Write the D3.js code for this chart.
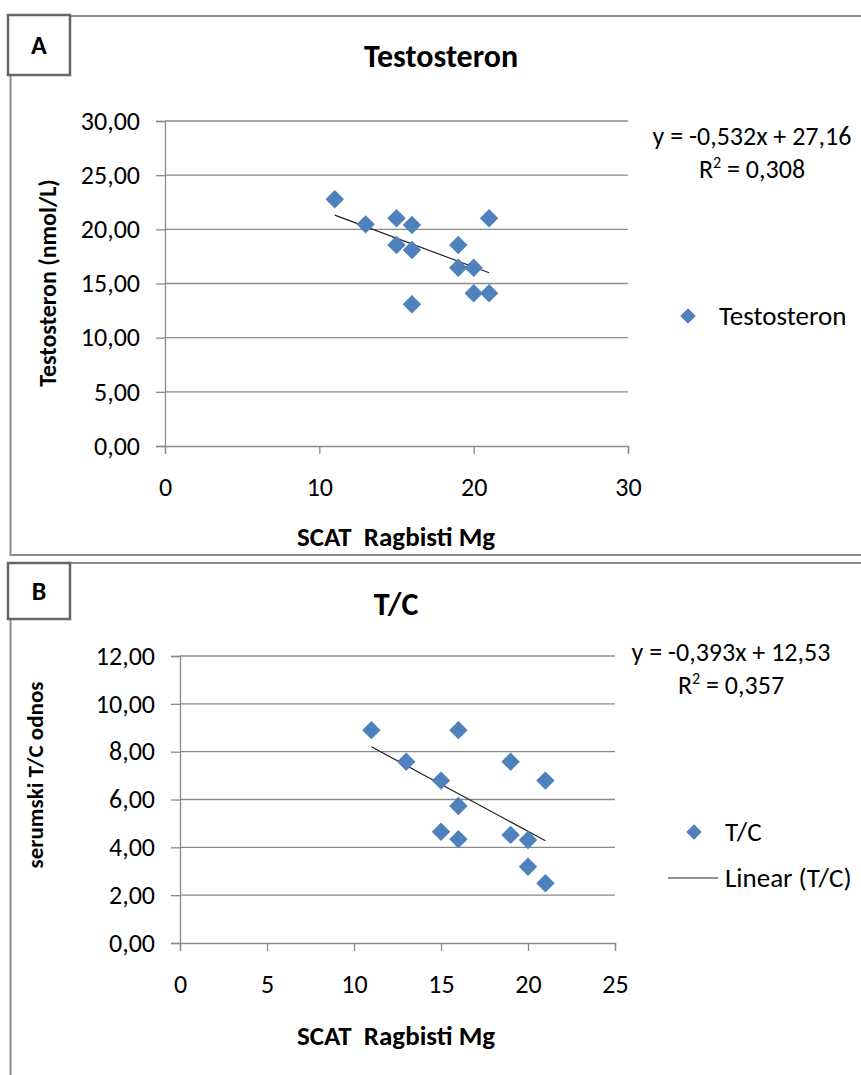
<!DOCTYPE html>
<html>
<head>
<meta charset="utf-8">
<script src="https://cdn.jsdelivr.net/npm/d3@7"></script>
<style>
  html, body { margin: 0; padding: 0; background: #fff; }
  svg { display: block; }
  text { font-family: Carlito, Lato, "Open Sans", sans-serif; fill: #000; }
</style>
</head>
<body>
<svg id="chart" width="861" height="1075"></svg>
<script>
// ---- Panel A: Testosteron vs SCAT score ----
const scatA = [11, 13, 15, 15, 16, 16, 16, 19, 19, 20, 20, 21, 21];
const testosteron = [22.77, 20.46, 21.02, 18.55, 20.40, 18.09, 13.08, 18.55, 16.46, 16.46, 14.10, 14.10, 21.02];
const xTicksA = [0, 10, 20, 30];
const yTicksA = [0, 5, 10, 15, 20, 25, 30];
const fitA = { slope: -0.532, intercept: 27.16, r2: 0.308 };

// ---- Panel B: serum T/C ratio vs SCAT score ----
const scatB = [11, 16, 13, 19, 15, 21, 16, 15, 16, 19, 20, 20, 21];
const tcRatio = [8.90, 8.90, 7.58, 7.58, 6.79, 6.79, 5.73, 4.65, 4.34, 4.52, 4.31, 3.19, 2.50];
const xTicksB = [0, 5, 10, 15, 20, 25];
const yTicksB = [0, 2, 4, 6, 8, 10, 12];
const fitB = { slope: -0.393, intercept: 12.53, r2: 0.357 };

const locale = d3.formatLocale({ decimal: ",", thousands: ".", grouping: [3], currency: ["", ""], minus: "-" });
const fmt2 = locale.format(".2f");
const fmt3 = locale.format(".3f");

const BLUE = "#4f81bd";
const GRID = "#8a8a8a";

const svg = d3.select("#chart");
const diamond = d3.symbol().type(d3.symbolSquare).size(170);

function panel(opt) {
  const g = svg.append("g");

  // outer frame
  g.append("rect")
    .attr("x", opt.frame[0]).attr("y", opt.frame[1])
    .attr("width", opt.frame[2]).attr("height", opt.frame[3])
    .attr("fill", "none").attr("stroke", "#8c8c8c").attr("stroke-width", 2);

  // letter box
  g.append("rect")
    .attr("x", opt.box[0]).attr("y", opt.box[1])
    .attr("width", opt.box[2]).attr("height", opt.box[3])
    .attr("fill", "#fff").attr("stroke", "#666").attr("stroke-width", 2.5);
  g.append("text")
    .attr("x", opt.box[0] + opt.box[2] / 2).attr("y", opt.box[1] + opt.box[3] / 2 + 9)
    .attr("text-anchor", "middle").attr("font-weight", "bold").attr("font-size", 26)
    .text(opt.letter);

  const x = d3.scaleLinear().domain(opt.xDomain).range(opt.xRange);
  const y = d3.scaleLinear().domain(opt.yDomain).range(opt.yRange);

  // horizontal gridlines
  g.append("g").selectAll("line").data(opt.yTicks.slice(1)).join("line")
    .attr("x1", opt.xRange[0]).attr("x2", opt.xRange[1])
    .attr("y1", d => y(d)).attr("y2", d => y(d))
    .attr("stroke", GRID).attr("stroke-width", 1.3);

  // axes
  const yAxis = g.append("g").attr("transform", `translate(${opt.xRange[0]},0)`)
    .call(d3.axisLeft(y).tickValues(opt.yTicks).tickFormat(fmt2).tickSize(9).tickPadding(16));
  const xAxis = g.append("g").attr("transform", `translate(0,${opt.yRange[0]})`)
    .call(d3.axisBottom(x).tickValues(opt.xTicks).tickFormat(d3.format("d")).tickSize(8).tickPadding(24));
  [yAxis, xAxis].forEach(a => {
    a.select(".domain").attr("stroke", GRID).attr("stroke-width", 1.3);
    a.selectAll(".tick line").attr("stroke", GRID).attr("stroke-width", 1.3);
    a.selectAll(".tick text").attr("font-size", 26).attr("fill", "#000")
      .style("font-family", "Carlito, Lato, sans-serif");
  });

  // linear fit across the data range
  const xs = d3.extent(opt.xs);
  g.append("line")
    .attr("x1", x(xs[0])).attr("y1", y(opt.fit.intercept + opt.fit.slope * xs[0]))
    .attr("x2", x(xs[1])).attr("y2", y(opt.fit.intercept + opt.fit.slope * xs[1]))
    .attr("stroke", "#222").attr("stroke-width", 1.2);

  // points
  g.append("g").selectAll("path").data(opt.xs.map((d, i) => [d, opt.ys[i]])).join("path")
    .attr("d", diamond)
    .attr("transform", d => `translate(${x(d[0])},${y(d[1])}) rotate(45)`)
    .attr("fill", BLUE);

  // titles
  g.append("text").attr("x", opt.title[0]).attr("y", opt.title[1])
    .attr("text-anchor", "middle").attr("font-weight", "bold").attr("font-size", 32)
    .text(opt.titleText);
  g.append("text").attr("x", opt.xTitle[0]).attr("y", opt.xTitle[1])
    .attr("text-anchor", "middle").attr("font-weight", "bold").attr("font-size", 27)
    .attr("xml:space", "preserve")
    .text("SCAT  Ragbisti Mg");
  g.append("text")
    .attr("transform", `translate(${opt.yTitle[0]},${opt.yTitle[1]}) rotate(-90)`)
    .attr("text-anchor", "middle").attr("font-weight", "bold").attr("font-size", opt.yTitleSize)
    .text(opt.yTitleText);

  // equation
  const sign = opt.fit.intercept >= 0 ? "+" : "-";
  g.append("text").attr("x", opt.eq[0]).attr("y", opt.eq[1])
    .attr("text-anchor", "middle").attr("font-size", 26)
    .text(`y = ${fmt3(opt.fit.slope)}x ${sign} ${fmt2(Math.abs(opt.fit.intercept))}`);
  const r = g.append("text").attr("x", opt.eq[0]).attr("y", opt.eq[1] + 33)
    .attr("text-anchor", "middle").attr("font-size", 26);
  r.append("tspan").text("R");
  r.append("tspan").attr("dy", -10).attr("font-size", 16).text("2");
  r.append("tspan").attr("dy", 10).text(" = " + fmt3(opt.fit.r2));

  // legend
  g.append("path").attr("d", d3.symbol().type(d3.symbolSquare).size(120))
    .attr("transform", `translate(${opt.legend[0]},${opt.legend[1]}) rotate(45)`)
    .attr("fill", BLUE);
  g.append("text").attr("x", opt.legend[0] + 31).attr("y", opt.legend[1] + 9)
    .attr("font-size", 27).text(opt.seriesName);
  if (opt.legendLine) {
    const ly = opt.legend[1] + 46;
    g.append("line").attr("x1", opt.legend[0] - 26).attr("x2", opt.legend[0] + 24)
      .attr("y1", ly).attr("y2", ly).attr("stroke", "#222").attr("stroke-width", 1.2);
    g.append("text").attr("x", opt.legend[0] + 31).attr("y", ly + 9)
      .attr("font-size", 27).text(`Linear (${opt.seriesName})`);
  }
}

panel({
  frame: [10.5, 16, 870, 539], box: [8, 15, 62, 60], letter: "A",
  xDomain: [0, 30], xRange: [165, 628], yDomain: [0, 30], yRange: [446, 121],
  xTicks: xTicksA, yTicks: yTicksA, xs: scatA, ys: testosteron, fit: fitA,
  title: [441, 67], titleText: "Testosteron",
  xTitle: [396, 546], yTitle: [56, 283], yTitleText: "Testosteron (nmol/L)", yTitleSize: 24,
  eq: [752, 145], legend: [688, 316], seriesName: "Testosteron", legendLine: false
});

panel({
  frame: [10.5, 563, 870, 600], box: [8, 563, 62, 56], letter: "B",
  xDomain: [0, 25], xRange: [180, 615], yDomain: [0, 12], yRange: [943, 656],
  xTicks: xTicksB, yTicks: yTicksB, xs: scatB, ys: tcRatio, fit: fitB,
  title: [396, 615], titleText: "T/C",
  xTitle: [396, 1045], yTitle: [43, 775], yTitleText: "serumski T/C odnos", yTitleSize: 23,
  eq: [731, 661], legend: [694, 832], seriesName: "T/C", legendLine: true
});
</script>
</body>
</html>
